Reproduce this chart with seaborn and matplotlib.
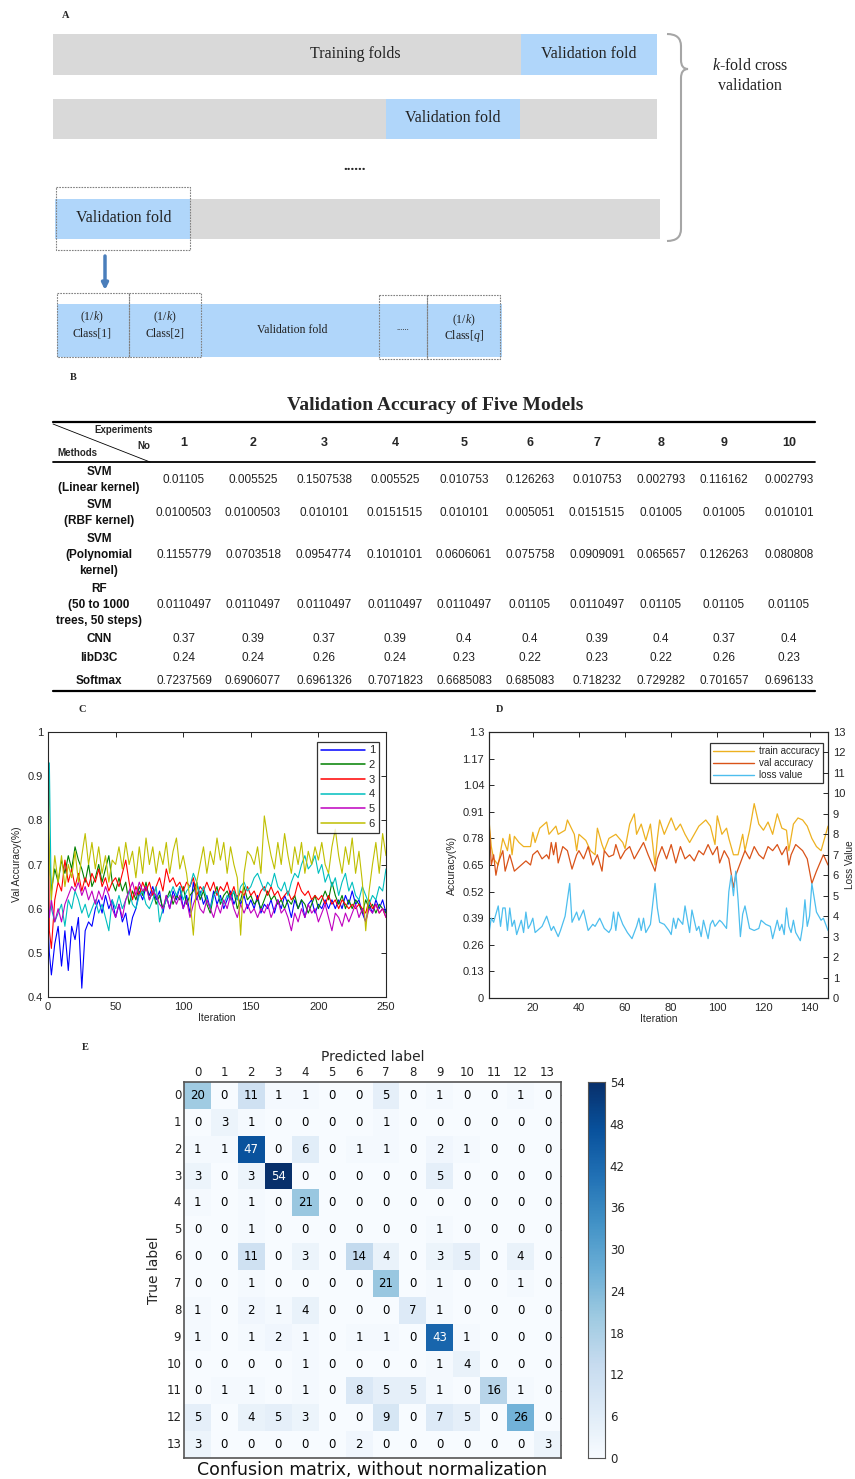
import numpy as np
import pandas as pd
import matplotlib
matplotlib.use("Agg")
import matplotlib.pyplot as plt
import seaborn as sns
from matplotlib.patches import Rectangle, PathPatch
from matplotlib.path import Path
from matplotlib.lines import Line2D

sns.set_style("white")
plt.rcParams["font.family"] = ["Liberation Sans", "DejaVu Sans"]
plt.rcParams["mathtext.fontset"] = "custom"
plt.rcParams["mathtext.rm"] = "Liberation Serif"
plt.rcParams["mathtext.it"] = "Liberation Serif:italic"

W, H = 855, 1479
SERIF = ["Liberation Serif", "DejaVu Serif"]

# --------------------------------------------------------------------------
# data
# --------------------------------------------------------------------------
# B: validation accuracy table
experiments = ["1", "2", "3", "4", "5", "6", "7", "8", "9", "10"]
methods = ["SVM\n(Linear kernel)", "SVM\n(RBF kernel)", "SVM\n(Polynomial\nkernel)",
           "RF\n(50 to 1000\ntrees, 50 steps)", "CNN", "libD3C", "Softmax"]
svm_linear = ["0.01105", "0.005525", "0.1507538", "0.005525", "0.010753",
              "0.126263", "0.010753", "0.002793", "0.116162", "0.002793"]
svm_rbf = ["0.0100503", "0.0100503", "0.010101", "0.0151515", "0.010101",
           "0.005051", "0.0151515", "0.01005", "0.01005", "0.010101"]
svm_poly = ["0.1155779", "0.0703518", "0.0954774", "0.1010101", "0.0606061",
            "0.075758", "0.0909091", "0.065657", "0.126263", "0.080808"]
rf = ["0.0110497", "0.0110497", "0.0110497", "0.0110497", "0.0110497",
      "0.01105", "0.0110497", "0.01105", "0.01105", "0.01105"]
cnn = ["0.37", "0.39", "0.37", "0.39", "0.4", "0.4", "0.39", "0.4", "0.37", "0.4"]
libd3c = ["0.24", "0.24", "0.26", "0.24", "0.23", "0.22", "0.23", "0.22", "0.26", "0.23"]
softmax = ["0.7237569", "0.6906077", "0.6961326", "0.7071823", "0.6685083",
           "0.685083", "0.718232", "0.729282", "0.701657", "0.696133"]

# C: validation accuracy of six runs (read every 2.5 iterations)
iters_c = [0, 1] + [2.5 * k for k in range(1, 101)]
run1 = [0.57, 0.50,
        0.45, 0.52, 0.56, 0.47, 0.55, 0.46, 0.56, 0.53, 0.58, 0.42,
        0.55, 0.57, 0.56, 0.60, 0.62, 0.59, 0.63, 0.60, 0.62, 0.58,
        0.61, 0.57, 0.59, 0.54, 0.58, 0.60, 0.64, 0.62, 0.65, 0.63,
        0.65, 0.62, 0.64, 0.59, 0.63, 0.60, 0.64, 0.62, 0.65, 0.60,
        0.63, 0.59, 0.66, 0.62, 0.64, 0.61, 0.63, 0.60, 0.64, 0.61,
        0.63, 0.60, 0.62, 0.64, 0.61, 0.63, 0.61, 0.63, 0.60, 0.62,
        0.60, 0.63, 0.59, 0.61, 0.60, 0.62, 0.59, 0.62, 0.60, 0.63,
        0.61, 0.58, 0.62, 0.60, 0.62, 0.58, 0.61, 0.62, 0.59, 0.61,
        0.60, 0.62, 0.60, 0.62, 0.60, 0.62, 0.60, 0.63, 0.61, 0.64,
        0.61, 0.62, 0.59, 0.57, 0.61, 0.59, 0.62, 0.60, 0.62, 0.59]
run2 = [0.80, 0.72,
        0.64, 0.69, 0.66, 0.71, 0.68, 0.72, 0.69, 0.74, 0.71, 0.69,
        0.66, 0.70, 0.65, 0.67, 0.70, 0.66, 0.69, 0.72, 0.66, 0.64,
        0.67, 0.64, 0.66, 0.61, 0.64, 0.62, 0.65, 0.63, 0.66, 0.62,
        0.64, 0.61, 0.63, 0.60, 0.62, 0.64, 0.61, 0.63, 0.62, 0.65,
        0.61, 0.63, 0.64, 0.66, 0.62, 0.64, 0.61, 0.59, 0.63, 0.65,
        0.61, 0.63, 0.64, 0.62, 0.64, 0.60, 0.62, 0.65, 0.62, 0.63,
        0.61, 0.62, 0.60, 0.62, 0.64, 0.62, 0.63, 0.61, 0.62, 0.60,
        0.62, 0.61, 0.63, 0.60, 0.62, 0.61, 0.59, 0.61, 0.63, 0.60,
        0.62, 0.64, 0.62, 0.66, 0.63, 0.61, 0.63, 0.60, 0.62, 0.60,
        0.62, 0.61, 0.59, 0.62, 0.60, 0.61, 0.59, 0.61, 0.60, 0.59]
run3 = [0.90, 0.55,
        0.51, 0.62, 0.66, 0.64, 0.71, 0.66, 0.69, 0.65, 0.68, 0.64,
        0.67, 0.65, 0.68, 0.66, 0.69, 0.65, 0.67, 0.64, 0.66, 0.67,
        0.65, 0.68, 0.71, 0.66, 0.62, 0.65, 0.63, 0.66, 0.64, 0.66,
        0.63, 0.65, 0.67, 0.64, 0.69, 0.66, 0.67, 0.65, 0.66, 0.64,
        0.66, 0.65, 0.67, 0.63, 0.65, 0.64, 0.66, 0.64, 0.66, 0.63,
        0.65, 0.64, 0.66, 0.63, 0.65, 0.62, 0.64, 0.63, 0.65, 0.63,
        0.64, 0.62, 0.64, 0.65, 0.63, 0.65, 0.63, 0.64, 0.62, 0.63,
        0.64, 0.62, 0.63, 0.66, 0.64, 0.63, 0.64, 0.62, 0.63, 0.62,
        0.63, 0.61, 0.63, 0.61, 0.62, 0.60, 0.62, 0.61, 0.60, 0.61,
        0.60, 0.61, 0.60, 0.59, 0.62, 0.60, 0.61, 0.59, 0.60, 0.58]
run4 = [0.70, 0.93,
        0.60, 0.57, 0.59, 0.61, 0.56, 0.62, 0.60, 0.64, 0.62, 0.59,
        0.61, 0.58, 0.60, 0.62, 0.59, 0.61, 0.58, 0.55, 0.62, 0.60,
        0.63, 0.60, 0.62, 0.64, 0.61, 0.60, 0.63, 0.64, 0.61, 0.60,
        0.62, 0.65, 0.57, 0.60, 0.62, 0.63, 0.65, 0.63, 0.65, 0.62,
        0.64, 0.65, 0.68, 0.66, 0.63, 0.65, 0.62, 0.60, 0.63, 0.64,
        0.62, 0.61, 0.63, 0.62, 0.64, 0.62, 0.65, 0.66, 0.64, 0.65,
        0.67, 0.68, 0.66, 0.64, 0.66, 0.65, 0.68, 0.65, 0.64, 0.66,
        0.63, 0.66, 0.68, 0.67, 0.70, 0.72, 0.69, 0.70, 0.72, 0.68,
        0.70, 0.66, 0.68, 0.65, 0.67, 0.63, 0.66, 0.68, 0.64, 0.66,
        0.63, 0.62, 0.65, 0.63, 0.61, 0.63, 0.62, 0.65, 0.64, 0.69]
run5 = [0.63, 0.58,
        0.62, 0.57, 0.60, 0.57, 0.61, 0.63, 0.65, 0.64, 0.66, 0.63,
        0.65, 0.62, 0.64, 0.61, 0.64, 0.62, 0.65, 0.63, 0.60, 0.58,
        0.61, 0.58, 0.62, 0.64, 0.66, 0.63, 0.66, 0.64, 0.65, 0.62,
        0.64, 0.63, 0.61, 0.60, 0.63, 0.60, 0.63, 0.61, 0.63, 0.60,
        0.62, 0.58, 0.61, 0.63, 0.60, 0.59, 0.62, 0.60, 0.58, 0.61,
        0.59, 0.62, 0.60, 0.63, 0.60, 0.58, 0.61, 0.59, 0.61, 0.59,
        0.60, 0.58, 0.60, 0.59, 0.61, 0.58, 0.60, 0.62, 0.59, 0.60,
        0.58, 0.55, 0.59, 0.57, 0.60, 0.58, 0.61, 0.59, 0.60, 0.57,
        0.59, 0.61, 0.58, 0.55, 0.59, 0.58, 0.56, 0.59, 0.57, 0.59,
        0.61, 0.58, 0.60, 0.57, 0.60, 0.59, 0.61, 0.59, 0.60, 0.58]
run6 = [1.00, 0.70,
        0.62, 0.72, 0.66, 0.72, 0.65, 0.70, 0.67, 0.73, 0.66, 0.72,
        0.77, 0.70, 0.75, 0.69, 0.74, 0.68, 0.72, 0.66, 0.71, 0.70,
        0.74, 0.69, 0.75, 0.70, 0.73, 0.67, 0.74, 0.68, 0.76, 0.70,
        0.74, 0.68, 0.73, 0.70, 0.75, 0.68, 0.73, 0.76, 0.69, 0.72,
        0.68, 0.62, 0.54, 0.66, 0.70, 0.74, 0.68, 0.73, 0.70, 0.76,
        0.71, 0.75, 0.68, 0.74, 0.70, 0.67, 0.54, 0.68, 0.73, 0.72,
        0.70, 0.74, 0.68, 0.81, 0.76, 0.72, 0.69, 0.75, 0.70, 0.77,
        0.72, 0.68, 0.74, 0.70, 0.75, 0.68, 0.73, 0.70, 0.74, 0.71,
        0.75, 0.70, 0.68, 0.74, 0.78, 0.72, 0.68, 0.74, 0.70, 0.76,
        0.68, 0.73, 0.66, 0.55, 0.64, 0.70, 0.75, 0.68, 0.77, 0.72]
run_names = ["1", "2", "3", "4", "5", "6"]
run_colors = ["#0000ff", "#008000", "#ff0000", "#00bfbf", "#bf00bf", "#bfbf00"]

# D: training curves
train_x = [1, 2, 3, 5, 7, 9, 10, 11, 12, 14, 16, 19, 20, 21, 23, 26, 27, 30, 31, 34, 35,
           38, 39, 40, 43, 45, 47, 48, 50, 51, 53, 56, 59, 60, 62, 64, 65, 67, 69, 71,
           73, 74, 75, 77, 80, 82, 84, 86, 88, 90, 92, 95, 97, 99, 100, 102, 104, 105,
           107, 109, 111, 112, 114, 116, 118, 120, 122, 124, 126, 128, 130, 131, 133,
           135, 137, 139, 141, 143, 145, 147, 148]
train_acc = [0.87, 0.74, 0.68, 0.65, 0.78, 0.72, 0.80, 0.70, 0.79, 0.76, 0.74, 0.74, 0.81,
             0.76, 0.83, 0.86, 0.80, 0.84, 0.80, 0.82, 0.87, 0.80, 0.72, 0.80, 0.77, 0.72,
             0.70, 0.83, 0.75, 0.72, 0.78, 0.80, 0.76, 0.73, 0.85, 0.90, 0.80, 0.85, 0.77,
             0.85, 0.65, 0.78, 0.87, 0.80, 0.88, 0.82, 0.85, 0.80, 0.76, 0.80, 0.84, 0.87,
             0.84, 0.75, 0.89, 0.80, 0.83, 0.78, 0.70, 0.70, 0.80, 0.72, 0.82, 0.95, 0.85,
             0.82, 0.86, 0.80, 0.90, 0.83, 0.82, 0.72, 0.85, 0.88, 0.87, 0.84, 0.78, 0.74,
             0.72, 0.80, 0.84]
val_x = [1, 2, 3, 4, 5, 7, 8, 10, 12, 15, 17, 19, 20, 22, 24, 26, 27, 28, 29, 30, 31, 33,
         35, 37, 39, 40, 42, 44, 46, 48, 50, 51, 53, 55, 56, 58, 60, 62, 64, 66, 68, 70,
         73, 74, 76, 78, 80, 82, 84, 86, 88, 90, 92, 94, 96, 98, 100, 101, 103, 105, 107,
         108, 110, 112, 114, 116, 118, 120, 122, 124, 126, 128, 130, 131, 132, 134, 137,
         139, 141, 143, 146, 148]
val_acc = [0.86, 0.65, 0.70, 0.60, 0.66, 0.72, 0.62, 0.70, 0.62, 0.65, 0.67, 0.65, 0.70,
           0.72, 0.68, 0.70, 0.68, 0.76, 0.70, 0.76, 0.66, 0.74, 0.72, 0.63, 0.70, 0.72,
           0.68, 0.74, 0.65, 0.70, 0.62, 0.72, 0.69, 0.70, 0.75, 0.68, 0.72, 0.74, 0.68,
           0.72, 0.76, 0.70, 0.62, 0.68, 0.74, 0.68, 0.75, 0.66, 0.74, 0.68, 0.70, 0.67,
           0.72, 0.70, 0.75, 0.70, 0.74, 0.66, 0.72, 0.68, 0.54, 0.60, 0.66, 0.72, 0.68,
           0.74, 0.70, 0.68, 0.74, 0.72, 0.75, 0.70, 0.74, 0.65, 0.70, 0.75, 0.72, 0.68,
           0.56, 0.62, 0.70, 0.65]
loss_x = [1, 2, 3, 5, 6, 7, 8, 9, 10, 11, 12, 13, 15, 16, 17, 18, 19, 20, 21, 23, 24, 26,
          28, 29, 31, 32, 34, 36, 37, 39, 40, 42, 44, 46, 47, 49, 51, 53, 54, 55, 56, 57,
          59, 61, 63, 65, 66, 67, 68, 69, 71, 73, 74, 75, 77, 79, 80, 81, 82, 83, 85, 86,
          88, 89, 91, 92, 93, 94, 96, 97, 98, 99, 101, 102, 104, 105, 106, 107, 108, 109,
          110, 111, 112, 114, 116, 118, 119, 121, 123, 124, 126, 127, 128, 129, 130, 131,
          132, 133, 134, 136, 137, 138, 139, 140, 141, 143, 145, 146, 148]
loss_val = [3.2, 3.9, 3.7, 4.5, 3.5, 4.4, 4.4, 3.3, 4.4, 3.5, 3.8, 3.1, 3.8, 3.2, 4.2, 3.4,
            3.6, 3.9, 3.2, 3.4, 3.5, 4.0, 3.3, 3.5, 3.0, 3.3, 4.0, 5.6, 3.7, 4.2, 3.8, 4.3,
            3.3, 3.6, 3.5, 3.9, 3.4, 3.2, 3.4, 4.2, 3.3, 4.2, 3.6, 3.2, 2.9, 3.5, 3.9, 3.3,
            3.9, 3.2, 3.6, 5.6, 4.4, 3.7, 3.6, 3.3, 3.1, 3.9, 3.4, 3.9, 3.6, 4.5, 3.2, 4.3,
            3.3, 3.5, 3.0, 3.8, 2.9, 3.6, 3.8, 3.5, 3.8, 3.7, 3.4, 5.2, 6.0, 5.0, 6.2, 4.8,
            3.0, 4.1, 4.5, 3.4, 3.3, 3.4, 3.8, 3.6, 3.5, 2.9, 3.8, 3.3, 3.6, 3.1, 4.4, 3.5,
            3.2, 3.8, 3.2, 2.8, 3.5, 4.8, 3.5, 4.0, 5.6, 4.2, 3.8, 3.9, 3.3]

# E: confusion matrix
class_labels = [str(i) for i in range(14)]
confusion = [
    [20, 0, 11, 1, 1, 0, 0, 5, 0, 1, 0, 0, 1, 0],
    [0, 3, 1, 0, 0, 0, 0, 1, 0, 0, 0, 0, 0, 0],
    [1, 1, 47, 0, 6, 0, 1, 1, 0, 2, 1, 0, 0, 0],
    [3, 0, 3, 54, 0, 0, 0, 0, 0, 5, 0, 0, 0, 0],
    [1, 0, 1, 0, 21, 0, 0, 0, 0, 0, 0, 0, 0, 0],
    [0, 0, 1, 0, 0, 0, 0, 0, 0, 1, 0, 0, 0, 0],
    [0, 0, 11, 0, 3, 0, 14, 4, 0, 3, 5, 0, 4, 0],
    [0, 0, 1, 0, 0, 0, 0, 21, 0, 1, 0, 0, 1, 0],
    [1, 0, 2, 1, 4, 0, 0, 0, 7, 1, 0, 0, 0, 0],
    [1, 0, 1, 2, 1, 0, 1, 1, 0, 43, 1, 0, 0, 0],
    [0, 0, 0, 0, 1, 0, 0, 0, 0, 1, 4, 0, 0, 0],
    [0, 1, 1, 0, 1, 0, 8, 5, 5, 1, 0, 16, 1, 0],
    [5, 0, 4, 5, 3, 0, 0, 9, 0, 7, 5, 0, 26, 0],
    [3, 0, 0, 0, 0, 0, 2, 0, 0, 0, 0, 0, 0, 3],
]


def rect(x0, y0, x1, y1):
    """pixel box (top-left origin) -> figure fraction rect"""
    return [x0 / W, 1 - y1 / H, (x1 - x0) / W, (y1 - y0) / H]


fig = plt.figure(figsize=(W / 100, H / 100), dpi=100)
canvas = fig.add_axes([0, 0, 1, 1])
canvas.set_xlim(0, W)
canvas.set_ylim(H, 0)
canvas.axis("off")

# --------------------------------------------------------------------------
# A: k-fold diagram
# --------------------------------------------------------------------------
GREY, BLUE, DASH = "#d9d9d9", "#b0d6fa", "#808080"
canvas.text(62, 16, "A", family=SERIF, weight="bold", fontsize=7.5, va="center")

for (x0, x1, y0, y1, c) in [(53, 657, 34, 75, GREY), (521, 657, 34, 75, BLUE),
                            (53, 657, 99, 139, GREY), (386, 520, 99, 139, BLUE),
                            (55, 660, 199, 239, GREY), (55, 190, 199, 239, BLUE),
                            (57, 502, 304, 357, BLUE)]:
    canvas.add_patch(Rectangle((x0, y0), x1 - x0, y1 - y0, color=c, lw=0))

big = dict(family=SERIF, fontsize=11.5, ha="center", va="center", color="#222222")
canvas.text(355, 54, "Training folds", **big)
canvas.text(589, 54, "Validation fold", **big)
canvas.text(453, 118, "Validation fold", **big)
canvas.text(124, 218, "Validation fold", **big)
canvas.text(355, 166, "......", family=SERIF, fontsize=11, weight="bold",
            ha="center", va="center")

for (x0, x1, y0, y1) in [(56, 190, 187, 250), (57, 129, 293, 357), (129, 201, 293, 357),
                         (379, 427, 295, 359), (427, 500, 295, 359)]:
    canvas.add_patch(Rectangle((x0, y0), x1 - x0, y1 - y0, fill=False,
                               ec=DASH, lw=0.8, ls=(0, (1.5, 1))))

brace = Path([(667, 34), (681, 34), (681, 46), (681, 60), (681, 69), (688, 69),
              (681, 69), (681, 78), (681, 229), (681, 241), (667, 241)],
             [Path.MOVETO, Path.CURVE3, Path.CURVE3, Path.LINETO, Path.CURVE3, Path.CURVE3,
              Path.CURVE3, Path.CURVE3, Path.LINETO, Path.CURVE3, Path.CURVE3])
canvas.add_patch(PathPatch(brace, fill=False, ec="#a6a6a6", lw=1.5))
canvas.text(750, 66, r"$\mathit{k}$-fold cross", **big)
canvas.text(750, 86, "validation", **big)

canvas.annotate("", xy=(105, 290), xytext=(105, 256),
                arrowprops=dict(arrowstyle="-|>", color="#4a7ebb", lw=2.5,
                                mutation_scale=9, shrinkA=0, shrinkB=0))
small = dict(family=SERIF, fontsize=8.5, ha="center", va="center", color="#222222")
canvas.text(92, 317, r"(1/$\mathit{k}$)", **small)
canvas.text(92, 333, "Class[1]", **small)
canvas.text(165, 317, r"(1/$\mathit{k}$)", **small)
canvas.text(165, 333, "Class[2]", **small)
canvas.text(292, 330, "Validation fold", **small)
canvas.text(403, 328, "......", family=SERIF, fontsize=6, ha="center", va="center")
canvas.text(464, 320, r"(1/$\mathit{k}$)", **small)
canvas.text(464, 336, r"Class[$\mathit{q}$]", **small)

# --------------------------------------------------------------------------
# B: table
# --------------------------------------------------------------------------
canvas.text(70, 378, "B", family=SERIF, weight="bold", fontsize=7.5, va="center")
canvas.text(435, 406, "Validation Accuracy of Five Models", family=SERIF,
            weight="bold", fontsize=14, ha="center", va="center")
canvas.plot([53, 815], [422, 422], color="black", lw=1.6)
canvas.plot([53, 815], [462, 462], color="black", lw=1.3)
canvas.plot([53, 815], [691, 691], color="black", lw=1.6)
canvas.plot([53, 150], [424, 462], color="black", lw=0.6)
canvas.text(153, 430, "Experiments", fontsize=7, weight="bold", ha="right", va="center")
canvas.text(150, 446, "No", fontsize=7, weight="bold", ha="right", va="center")
canvas.text(57, 453, "Methods", fontsize=7, weight="bold", ha="left", va="center")

col_x = [184, 253, 324, 395, 464, 530, 597, 661, 724, 789]
row_y = [480, 513, 555, 605, 639, 658, 681]
table_rows = [svm_linear, svm_rbf, svm_poly, rf, cnn, libd3c, softmax]
for x, e in zip(col_x, experiments):
    canvas.text(x, 443, e, fontsize=9, weight="bold", ha="center", va="center")
for y, m, vals in zip(row_y, methods, table_rows):
    canvas.text(99, y, m, fontsize=8.5, weight="bold", ha="center", va="center",
                linespacing=1.45, color="#111111")
    for x, v in zip(col_x, vals):
        canvas.text(x, y, v, fontsize=8.5, ha="center", va="center", color="#222222")


def matlab_axes(ax):
    for s in ax.spines.values():
        s.set_visible(True)
        s.set_color("#262626")
        s.set_linewidth(0.8)
    ax.tick_params(direction="in", length=3.5, width=0.7, labelsize=8,
                   colors="#262626", top=True)


# --------------------------------------------------------------------------
# C: validation accuracy curves
# --------------------------------------------------------------------------
canvas.text(78, 709, "C", family=SERIF, weight="bold", fontsize=7.5, va="center")
axC = fig.add_axes(rect(48, 732, 386, 997))
runs = [run1, run2, run3, run4, run5, run6]
dfC = pd.DataFrame({
    "Iteration": iters_c * len(runs),
    "acc": sum(runs, []),
    "run": sum([[n] * len(iters_c) for n in run_names], []),
})
sns.lineplot(data=dfC, x="Iteration", y="acc", hue="run", palette=run_colors,
             estimator=None, sort=False, lw=0.8, legend=False, ax=axC)
axC.set_xlim(0, 250)
axC.set_ylim(0.4, 1.0)
axC.set_xticks([0, 50, 100, 150, 200, 250])
axC.set_yticks([0.4, 0.5, 0.6, 0.7, 0.8, 0.9, 1.0])
axC.set_yticklabels(["0.4", "0.5", "0.6", "0.7", "0.8", "0.9", "1"])
matlab_axes(axC)
axC.tick_params(right=True)
axC.set_xlabel("Iteration", fontsize=7.5, labelpad=1)
axC.set_ylabel("Val Accuracy(%)", fontsize=7.5, labelpad=4)
handles = [Line2D([], [], color=c, lw=1.1) for c in run_colors]
legC = axC.legend(handles, run_names, loc="upper right", fontsize=8,
                  frameon=True, fancybox=False, edgecolor="black", handlelength=4.0,
                  handletextpad=0.3, labelspacing=0.42, borderpad=0.35,
                  bbox_to_anchor=(0.995, 0.985))
legC.get_frame().set_linewidth(0.9)

# --------------------------------------------------------------------------
# D: train / val accuracy and loss
# --------------------------------------------------------------------------
canvas.text(496, 709, "D", family=SERIF, weight="bold", fontsize=7.5, va="center")
axD = fig.add_axes(rect(489, 732, 828, 998))
sns.lineplot(x=train_x, y=train_acc, color="#edb120", lw=0.9, ax=axD)
sns.lineplot(x=val_x, y=val_acc, color="#d95319", lw=0.9, ax=axD)
axD.set_xlim(1, 148)
axD.set_ylim(0, 1.3)
axD.set_xticks([20, 40, 60, 80, 100, 120, 140])
acc_ticks = [0, 0.13, 0.26, 0.39, 0.52, 0.65, 0.78, 0.91, 1.04, 1.17, 1.3]
axD.set_yticks(acc_ticks)
axD.set_yticklabels(["0", "0.13", "0.26", "0.39", "0.52", "0.65", "0.78", "0.91",
                     "1.04", "1.17", "1.3"])
matlab_axes(axD)
axD.set_xlabel("Iteration", fontsize=7.5, labelpad=1)
axD.set_ylabel("Accuracy(%)", fontsize=7.5, labelpad=4)
axD2 = axD.twinx()
sns.lineplot(x=loss_x, y=loss_val, color="#4dbeee", lw=0.9, ax=axD2)
axD2.set_ylim(0, 13)
axD2.set_yticks(range(0, 14))
matlab_axes(axD2)
axD2.tick_params(top=False, left=False, right=True)
axD2.set_ylabel("")
canvas.text(850, 865, "Loss Value", fontsize=7.2, rotation=90, ha="center",
            va="center", color="#262626")
handlesD = [Line2D([], [], color=c, lw=1.0) for c in ["#edb120", "#d95319", "#4dbeee"]]
legD = axD2.legend(handlesD, ["train accuracy", "val accuracy", "loss value"],
                   loc="upper right", fontsize=7, frameon=True, fancybox=False,
                   edgecolor="black", handlelength=4.2, handletextpad=0.6,
                   labelspacing=0.2, borderpad=0.3, bbox_to_anchor=(0.999, 0.976))
legD.get_frame().set_linewidth(0.9)

# --------------------------------------------------------------------------
# E: confusion matrix
# --------------------------------------------------------------------------
canvas.text(82, 1048, "E", family=SERIF, weight="bold", fontsize=7.5, va="center")
axE = fig.add_axes(rect(184, 1082, 561, 1458))
caxE = fig.add_axes(rect(588, 1082, 605, 1458))
cm = pd.DataFrame(confusion, index=class_labels, columns=class_labels)
sns.heatmap(cm, cmap="Blues", vmin=0, vmax=54, annot=True, fmt="d",
            annot_kws={"fontsize": 8.5, "family": "DejaVu Sans"},
            cbar_ax=caxE, ax=axE, square=False)
for t, v in zip(axE.texts, np.array(confusion).ravel()):
    t.set_color("white" if v > 27 else "black")
axE.xaxis.tick_top()
axE.xaxis.set_label_position("top")
axE.set_xticklabels(class_labels, rotation=0, fontsize=8.5, family="DejaVu Sans")
axE.set_yticklabels(class_labels, rotation=0, fontsize=8.5, family="DejaVu Sans")
axE.tick_params(axis="both", length=3, width=0.6, pad=2, direction="in",
                right=True, colors="#222222")
axE.set_xlabel("Predicted label", fontsize=10, family="DejaVu Sans", labelpad=4)
axE.set_ylabel("True label", fontsize=10, family="DejaVu Sans", labelpad=4)
for s in axE.spines.values():
    s.set_visible(True)
    s.set_color("#555555")
    s.set_linewidth(1.2)
caxE.set_yticks(range(0, 55, 6))
caxE.tick_params(labelsize=8.5, length=3, width=0.6, direction="in")
for t in caxE.get_yticklabels():
    t.set_family("DejaVu Sans")
for s in caxE.spines.values():
    s.set_visible(True)
    s.set_color("#555555")
canvas.text(372, 1470, "Confusion matrix, without normalization", fontsize=12.5,
            family="DejaVu Sans", ha="center", va="center", color="#111111")

fig.savefig("out.png", dpi=100)
